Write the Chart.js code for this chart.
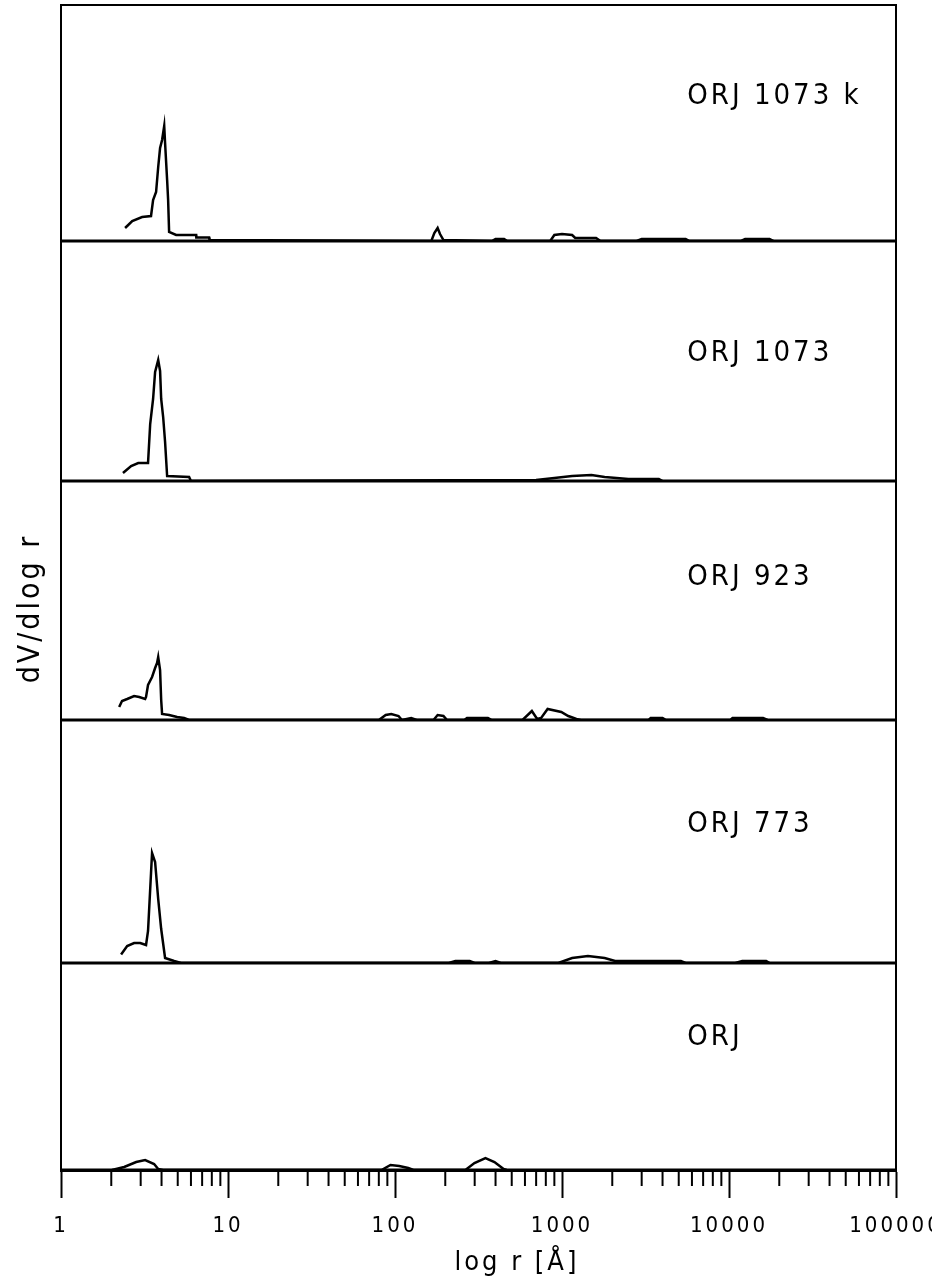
<!DOCTYPE html>
<html lang="en">
<head>
<meta charset="UTF-8">
<title>dV/dlog r</title>
<script src="https://cdn.jsdelivr.net/npm/chart.js@4.4.1/dist/chart.umd.min.js"></script>
<style>
  html, body { margin: 0; padding: 0; background: #fff; }
  #wrap { width: 932px; height: 1277px; position: relative; }
</style>
</head>
<body>
<div id="wrap"><canvas id="chart"></canvas></div>
<script>
// samples, top panel first
const sampleNames = ['ORJ 1073 k', 'ORJ 1073', 'ORJ 923', 'ORJ 773', 'ORJ'];

// pore radius r [Å] and dV/dlog r (a.u.)
const r1073k = [2.42, 2.67, 3.06, 3.46, 3.56, 3.71, 3.82, 3.92, 4.03, 4.15, 4.20, 4.32, 4.38, 4.44, 4.89, 6.45, 6.46, 7.71, 7.75,
  165, 172, 180, 186, 195, 380, 400, 450, 470, 850, 900, 1000, 1150, 1200, 1600, 1700, 2800, 3000, 5500, 5800, 11800, 12500, 17500, 18500];
const v1073k = [0.13, 0.20, 0.24, 0.25, 0.41, 0.49, 0.74, 0.93, 1.01, 1.15, 0.98, 0.61, 0.41, 0.09, 0.06, 0.06, 0.035, 0.035, 0.01,
  0, 0.08, 0.13, 0.07, 0.01, 0, 0.02, 0.02, 0, 0, 0.06, 0.07, 0.06, 0.03, 0.03, 0, 0, 0.02, 0.02, 0, 0, 0.02, 0.02, 0];

const r1073 = [2.35, 2.63, 2.90, 3.32, 3.42, 3.56, 3.66, 3.82, 3.92, 3.98, 4.09, 4.20, 4.32, 5.85, 6.0,
  700, 900, 1150, 1500, 1800, 2500, 3800, 4000];
const v1073 = [0.08, 0.15, 0.18, 0.18, 0.57, 0.82, 1.09, 1.21, 1.10, 0.82, 0.64, 0.39, 0.05, 0.04, 0,
  0.01, 0.03, 0.05, 0.06, 0.04, 0.02, 0.02, 0];

const r923 = [2.23, 2.32, 2.49, 2.74, 2.94, 3.19, 3.23, 3.32, 3.51, 3.66, 3.76, 3.82, 3.92, 3.98, 4.03, 4.44, 4.96, 5.46, 5.85,
  80, 88, 95, 105, 110, 125, 135, 170, 180, 195, 205, 260, 270, 360, 380,
  580, 660, 710, 750, 820, 990, 1090, 1220, 1300, 3300, 3400, 4000, 4200, 10200, 10500, 16000, 17000];
const v923 = [0.13, 0.19, 0.21, 0.24, 0.23, 0.21, 0.23, 0.35, 0.43, 0.52, 0.57, 0.63, 0.50, 0.20, 0.06, 0.05, 0.03, 0.02, 0,
  0, 0.05, 0.06, 0.04, 0, 0.02, 0, 0, 0.05, 0.04, 0, 0, 0.02, 0.02, 0,
  0, 0.09, 0.01, 0.02, 0.11, 0.08, 0.04, 0.01, 0, 0, 0.02, 0.02, 0, 0, 0.02, 0.02, 0];

const r773 = [2.29, 2.49, 2.74, 2.98, 3.23, 3.32, 3.46, 3.51, 3.66, 3.82, 3.98, 4.20, 4.76, 5.24,
  210, 230, 280, 300, 365, 400, 430, 950, 1150, 1430, 1800, 2080, 5150, 5500, 10900, 12000, 16700, 17500];
const v773 = [0.085, 0.17, 0.20, 0.20, 0.18, 0.32, 0.90, 1.10, 1.01, 0.64, 0.34, 0.05, 0.02, 0,
  0, 0.02, 0.02, 0, 0, 0.02, 0, 0, 0.05, 0.07, 0.05, 0.02, 0.02, 0, 0, 0.02, 0.02, 0];

const rORJ = [2.02, 2.39, 2.82, 3.19, 3.61, 3.82, 4.09, 83, 94, 106, 120, 129, 264, 299, 348, 394, 447, 466];
const vORJ = [0, 0.03, 0.08, 0.10, 0.06, 0.01, 0, 0, 0.05, 0.04, 0.02, 0, 0, 0.07, 0.12, 0.08, 0.01, 0];

const radii = [r1073k, r1073, r923, r773, rORJ];
const values = [v1073k, v1073, v923, v773, vORJ];

// x axis ticks
const decades = [1, 10, 100, 1000, 10000, 100000];
const tickLabels = ['1', '10', '100', '1000', '10000', '100000'];
const minorSteps = [2, 3, 4, 5, 6, 7, 8, 9];

// y range of each panel (a.u.) and where its name sits
const panelMax = [2.36, 2.40, 2.39, 2.43, 2.07];
const labelAt = [1.45, 1.28, 1.43, 1.39, 1.33];

const FONT = '"Liberation Sans Narrow", "DejaVu Sans Condensed", "Arial Narrow", sans-serif';

const xTicks = [];
decades.forEach(d => {
  xTicks.push(d);
  if (d < 100000) minorSteps.forEach(m => xTicks.push(d * m));
});

const scales = {
  x: {
    type: 'logarithmic',
    min: 1,
    max: 100000,
    afterBuildTicks: s => {
      s.ticks = xTicks.map(v => ({ value: v, major: decades.includes(v) }));
    },
    afterFit: s => {
      s.height = 107;
      s.paddingLeft = 0;
      s.paddingRight = 0;
    },
    grid: {
      display: true,
      drawOnChartArea: false,
      drawTicks: true,
      tickLength: 28,
      tickWidth: 2,
      tickColor: c => (c.tick && c.tick.major) ? '#000' : 'rgba(0,0,0,0)'
    },
    border: { display: true, color: '#000', width: 3 },
    ticks: {
      autoSkip: false,
      maxRotation: 0,
      minRotation: 0,
      padding: 15,
      color: '#000',
      font: { family: FONT, size: 22 },
      callback: v => decades.includes(v) ? tickLabels[decades.indexOf(v)] : ''
    }
  }
};

sampleNames.forEach((name, i) => {
  scales['y' + i] = {
    type: 'linear',
    position: 'left',
    stack: 'panels',
    stackWeight: panelMax[i],
    weight: sampleNames.length - i,
    min: 0,
    max: panelMax[i],
    grid: { display: false, drawOnChartArea: false, drawTicks: false },
    border: { display: true, color: '#000', width: 2 },
    ticks: { display: false },
    afterFit: s => { s.width = 0; }
  };
});

const datasets = sampleNames.map((name, i) => ({
  label: name,
  yAxisID: 'y' + i,
  data: radii[i].map((r, k) => ({ x: r, y: values[i][k] })),
  borderColor: '#000',
  borderWidth: 2.5,
  pointRadius: 0,
  tension: 0,
  fill: false
}));

// frame, panel baselines, minor ticks and text
const decorate = {
  id: 'decorate',
  beforeDraw(chart) {
    chart.ctx.letterSpacing = '3px';
  },
  afterDraw(chart) {
    const ctx = chart.ctx;
    const a = chart.chartArea;
    const xs = chart.scales.x;
    ctx.save();
    ctx.strokeStyle = '#000';
    ctx.fillStyle = '#000';

    ctx.lineWidth = 2;
    ctx.beginPath();
    ctx.moveTo(a.left, a.top);
    ctx.lineTo(a.right, a.top);
    ctx.lineTo(a.right, a.bottom);
    ctx.stroke();

    ctx.lineWidth = 3;
    sampleNames.forEach((name, i) => {
      const y = chart.scales['y' + i].getPixelForValue(0);
      ctx.beginPath();
      ctx.moveTo(a.left, y);
      ctx.lineTo(a.right, y);
      ctx.stroke();
    });

    ctx.lineWidth = 2;
    xTicks.forEach(v => {
      if (decades.includes(v)) return;
      const x = xs.getPixelForValue(v);
      ctx.beginPath();
      ctx.moveTo(x, a.bottom);
      ctx.lineTo(x, a.bottom + 16);
      ctx.stroke();
    });

    ctx.letterSpacing = '3px';
    ctx.textBaseline = 'middle';
    ctx.textAlign = 'left';
    ctx.font = '29px ' + FONT;
    sampleNames.forEach((name, i) => {
      const y = chart.scales['y' + i].getPixelForValue(labelAt[i]);
      ctx.fillText(name, a.left + 0.75 * (a.right - a.left), y);
    });

    ctx.textAlign = 'center';
    ctx.font = '27px ' + FONT;
    ctx.fillText('log r [Å]', a.left + 0.546 * (a.right - a.left), a.bottom + 93);

    const mid = chart.scales.y2;
    ctx.translate(a.left - 30, (mid.top + mid.bottom) / 2 + 8);
    ctx.rotate(-Math.PI / 2);
    ctx.font = '30px ' + FONT;
    ctx.fillText('dV/dlog r', 0, 0);
    ctx.restore();
    ctx.letterSpacing = '0px';
  }
};

new Chart(document.getElementById('chart'), {
  type: 'line',
  data: { datasets: datasets },
  options: {
    responsive: true,
    maintainAspectRatio: false,
    animation: false,
    layout: { padding: { left: 61, right: 36, top: 5, bottom: 0 } },
    plugins: { legend: { display: false }, tooltip: { enabled: false } },
    scales: scales
  },
  plugins: [decorate]
});
</script>
</body>
</html>
